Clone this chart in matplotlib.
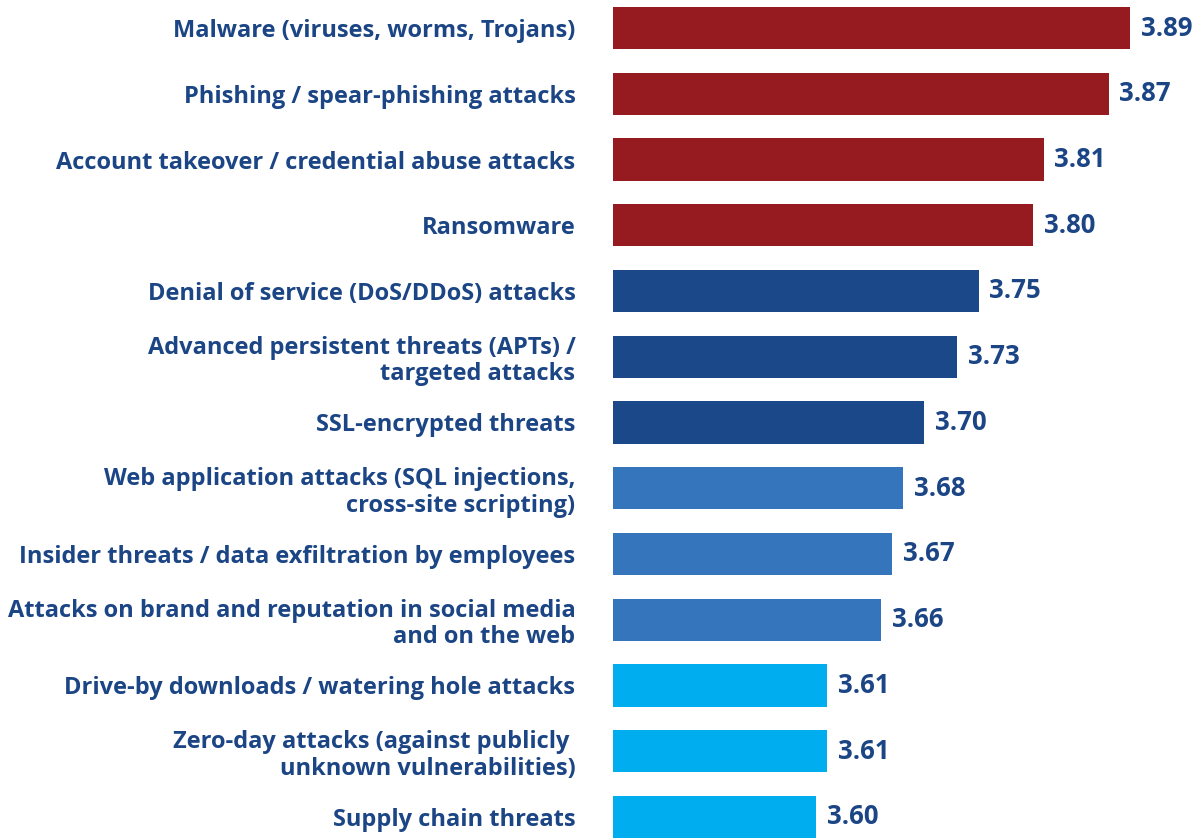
import matplotlib
matplotlib.use("Agg")
import matplotlib.pyplot as plt

labels = [
    "Malware (viruses, worms, Trojans)",
    "Phishing / spear-phishing attacks",
    "Account takeover / credential abuse attacks",
    "Ransomware",
    "Denial of service (DoS/DDoS) attacks",
    "Advanced persistent threats (APTs) /\ntargeted attacks",
    "SSL-encrypted threats",
    "Web application attacks (SQL injections,\ncross-site scripting)",
    "Insider threats / data exfiltration by employees",
    "Attacks on brand and reputation in social media\nand on the web",
    "Drive-by downloads / watering hole attacks",
    "Zero-day attacks (against publicly \nunknown vulnerabilities)",
    "Supply chain threats",
]
scores = [3.89, 3.87, 3.81, 3.80, 3.75, 3.73, 3.70, 3.68, 3.67, 3.66, 3.61, 3.61, 3.60]
groups = [0, 0, 0, 0, 1, 1, 1, 2, 2, 2, 3, 3, 3]

palette = ["#961b20", "#1b4888", "#3575bb", "#00aeef"]
text_col = "#1b4585"

plt.rcParams['font.family'] = ['Open Sans', 'DejaVu Sans']

fig = plt.figure(figsize=(11.95, 8.38), dpi=100)
ax = fig.add_axes([613 / 1195, 0, 1 - 613 / 1195, 1])

ypos = list(range(len(labels)))
base = 3.4125
ax.barh(ypos, [s - base for s in scores], left=base, height=0.64,
        color=[palette[g] for g in groups])

for y, s in zip(ypos, scores):
    ax.text(s + 0.01, y, f"{s:.2f}", va="center", ha="left",
            fontsize=18.5, fontweight="bold", color=text_col)

ax.set_xlim(base, base + 582 / 1083.3)
ax.set_ylim(12.32, -0.426)
ax.set_yticks(ypos)
ax.set_yticklabels(labels, fontsize=17, fontweight="bold", color=text_col,
                   linespacing=1.15)
ax.tick_params(axis="y", length=0, pad=27)
ax.set_xticks([])
for sp in ax.spines.values():
    sp.set_visible(False)

fig.savefig("out.png", dpi=100)
